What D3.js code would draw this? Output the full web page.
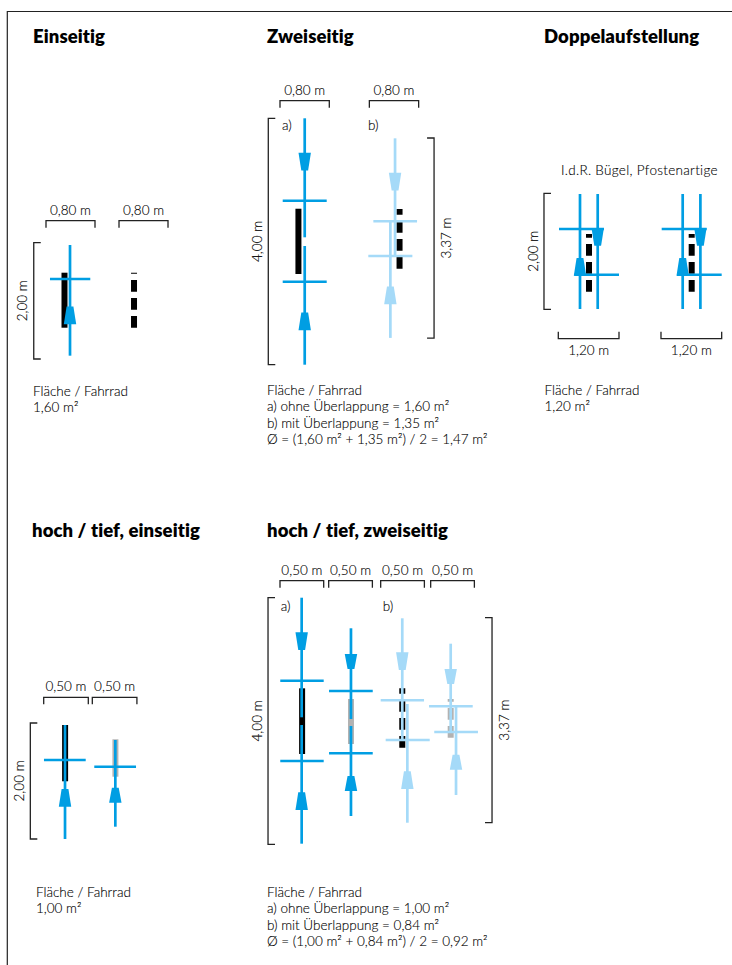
<!DOCTYPE html>
<html lang="de">
<head>
<meta charset="utf-8">
<title>Fahrradparken</title>
<script src="https://cdn.jsdelivr.net/npm/d3@7"></script>
<style>
  html, body { margin: 0; background: #fff; }
  svg { display: block; }
  text { font-family: Lato, "Open Sans", sans-serif; font-weight: 300; font-size: 13.5px; fill: #000; stroke: #000; stroke-width: 0.12px; font-variant-ligatures: none; }
  .title { font-weight: 800; font-size: 18.5px; letter-spacing: 0.1px; fill: #000; stroke: none; }
  .sub { letter-spacing: 0.3px; }
</style>
</head>
<body>
<svg id="sheet" width="732" height="965"></svg>
<script>
/* =====================================================
   Bike parking layouts, all lengths in metres on the plan
   bike: x, top, bottom = shaft, cross = handlebar height,
         left/right = handlebar ends, arrow = wide edge of
         the arrow head, dir -1 up / 1 down
   rack: x, top, bottom, dashed and grey flags
   ===================================================== */

/* --- Einseitig --- */
const einseitigBikes = [
  { x: 0.392, top: 0.040, bottom: 1.943, cross: 0.624, left: 0.065, right: 0.723, arrow: 1.403, dir: -1 }
];
const einseitigRacks = [
  { x: 0.302, top: 0.516, bottom: 1.462 },
  { x: 1.437, top: 0.516, bottom: 1.462, dashed: true }
];
const einseitigWidths = [[0, 0.8, '0,80 m'], [1.192, 1.992, '0,80 m']];
const einseitigText = ['Fläche / Fahrrad', '1,60 m²'];

/* --- Zweiseitig --- */
const zweiseitigBikes = [
  { x: 0.401, top: 0, bottom: 1.932, cross: 1.338, left: 0.044, right: 0.758, arrow: 0.558, dir: 1 },
  { x: 0.401, top: 2.073, bottom: 4, cross: 2.653, left: 0.044, right: 0.758, arrow: 3.442, dir: -1 },
  { x: 1.867, top: 0.325, bottom: 2.235, cross: 1.672, left: 1.515, right: 2.224, arrow: 0.883, dir: 1, light: true },
  { x: 1.791, top: 1.651, bottom: 3.565, cross: 2.235, left: 1.433, right: 2.148, arrow: 3.019, dir: -1, light: true }
];
const zweiseitigRacks = [
  { x: 0.299, top: 1.468, bottom: 2.528 },
  { x: 1.940, top: 1.472, bottom: 2.442, dashed: true }
];
const zweiseitigWidths = [[0, 0.8, '0,80 m'], [1.45, 2.25, '0,80 m']];
const zweiseitigText = [
  'Fläche / Fahrrad',
  'a) ohne Überlappung = 1,60 m²',
  'b) mit Überlappung = 1,35 m²',
  'Ø = (1,60 m² + 1,35 m²) / 2 = 1,47 m²'
];

/* --- Doppelaufstellung --- */
const doppelBikes = [
  { x: 0.779, top: 0.012, bottom: 1.995, cross: 0.616, left: 0.014, right: 0.903, arrow: 0.598, dir: 1 },
  { x: 0.429, top: 0.012, bottom: 1.995, cross: 1.403, left: 0.316, right: 1.2, arrow: 1.421, dir: -1 }
];
const doppelRacks = [{ x: 0.607, top: 0.702, bottom: 1.697, dashed: true }];
const doppelOffsets = [0, 2.03];
const doppelWidths = [[0, 1.2, '1,20 m'], [2.03, 3.23, '1,20 m']];
const doppelText = ['Fläche / Fahrrad', '1,20 m²'];

/* --- hoch / tief, einseitig --- */
const hochEinsBikes = [
  { x: 0.239, top: 0.034, bottom: 2, cross: 0.638, left: 0.003, right: 0.471, arrow: 1.443, dir: -1 },
  { x: 0.803, top: 0.293, bottom: 1.788, cross: 0.753, left: 0.567, right: 1.035, arrow: 1.374, dir: -1, small: true }
];
const hochEinsRacks = [
  { x: 0.240, top: 0.034, bottom: 1.005 },
  { x: 0.804, top: 0.281, bottom: 0.926, grey: true }
];
const hochEinsWidths = [[0, 0.5, '0,50 m'], [0.545, 1.045, '0,50 m']];
const hochEinsText = ['Fläche / Fahrrad', '1,00 m²'];

/* --- hoch / tief, zweiseitig --- */
const hochZweiBikes = [
  { x: 0.248, top: 0, bottom: 1.94, cross: 1.346, left: 0.003, right: 0.5, arrow: 0.561, dir: 1 },
  { x: 0.248, top: 2.065, bottom: 3.99, cross: 2.649, left: 0.003, right: 0.5, arrow: 3.444, dir: -1 },
  { x: 0.812, top: 0.496, bottom: 1.968, cross: 1.513, left: 0.561, right: 1.061, arrow: 0.913, dir: 1, small: true },
  { x: 0.812, top: 2.081, bottom: 3.541, cross: 2.524, left: 0.561, right: 1.061, arrow: 3.135, dir: -1, small: true },
  { x: 1.399, top: 0.334, bottom: 2.308, cross: 1.664, left: 1.152, right: 1.648, arrow: 0.886, dir: 1, light: true },
  { x: 1.457, top: 1.724, bottom: 3.65, cross: 2.308, left: 1.209, right: 1.713, arrow: 3.103, dir: -1, light: true },
  { x: 1.953, top: 0.746, bottom: 2.174, cross: 1.762, left: 1.705, right: 2.205, arrow: 1.157, dir: 1, small: true, light: true },
  { x: 2.014, top: 1.752, bottom: 3.2, cross: 2.178, left: 1.765, right: 2.265, arrow: 2.79, dir: -1, small: true, light: true }
];
const hochZweiRacks = [
  { x: 0.253, top: 1.47, bottom: 2.535 },
  { x: 0.812, top: 1.643, bottom: 2.373, grey: true },
  { x: 1.399, top: 1.47, bottom: 2.433, dashed: true },
  { x: 1.953, top: 1.643, bottom: 2.27, dashed: true, grey: true }
];
const hochZweiWidths = [[0, 0.5, '0,50 m'], [0.557, 1.057, '0,50 m'], [1.152, 1.652, '0,50 m'], [1.724, 2.224, '0,50 m']];
const hochZweiText = [
  'Fläche / Fahrrad',
  'a) ohne Überlappung = 1,00 m²',
  'b) mit Überlappung = 0,84 m²',
  'Ø = (1,00 m² + 0,84 m²) / 2 = 0,92 m²'
];


/* --- Styles --- */
const BLUE = '#009ee3';
const LIGHT = '#a5daf8';
const INK = '#222';
const GREY = '#b2b2b2';
const LINE_H = 16.3;

const svg = d3.select('#sheet');

// page frame: top and left edge only
svg.append('path')
  .attr('d', 'M7.3,965V11.5H732')
  .attr('fill', 'none')
  .attr('stroke', '#222').attr('stroke-width', 1.2);


/* --- Dimension brackets --- */
function widthBracket(g, x, y0, d, label, up) {
  const [a, b] = [x(d[0]), x(d[1])];
  const tick = up ? -7 : 7;
  g.append('path')
    .attr('d', `M${a},${y0 + tick}V${y0}H${b}V${y0 + tick}`)
    .attr('fill', 'none').attr('stroke', INK).attr('stroke-width', 1.3);
  g.append('text')
    .attr('x', (a + b) / 2)
    .attr('y', up ? y0 + 16 : y0 - 6)
    .attr('text-anchor', 'middle')
    .text(label);
}

function heightBracket(g, xPos, y, d, label, side) {
  // side -1: label on the left, ticks to the right
  const [a, b] = [y(d[0]), y(d[1])];
  const tick = -side * 7;
  g.append('path')
    .attr('d', `M${xPos + tick},${a}H${xPos}V${b}H${xPos + tick}`)
    .attr('fill', 'none').attr('stroke', INK).attr('stroke-width', 1.3);
  const lx = xPos + side * (side < 0 ? 11 : 12.5);
  g.append('text')
    .attr('transform', `translate(${lx},${(a + b) / 2}) rotate(-90)`)
    .attr('text-anchor', 'middle')
    .attr('dy', '0.35em')
    .text(label);
}


/* --- Racks + bikes --- */
function drawRacks(g, x, y, racks) {
  g.selectAll('line.rack')
    .data(racks)
    .enter()
    .append('line')
    .attr('class', 'rack')
    .attr('x1', d => x(d.x)).attr('x2', d => x(d.x))
    // drawn from the bottom so the dash pattern is cut off at the top
    .attr('y1', d => y(d.bottom)).attr('y2', d => y(d.top))
    .attr('stroke', d => d.grey ? GREY : '#000')
    .attr('stroke-width', 6)
    .attr('stroke-dasharray', d => d.dashed ? '11.7 6.3' : null);
}

function drawBikes(g, x, y, bikes) {
  const color = d => d.light ? LIGHT : BLUE;
  const items = g.selectAll('g.bike')
    .data(bikes)
    .enter()
    .append('g')
    .attr('class', 'bike');

  items.append('line')
    .attr('x1', d => x(d.x)).attr('x2', d => x(d.x))
    .attr('y1', d => y(d.top)).attr('y2', d => y(d.bottom))
    .attr('stroke', color).attr('stroke-width', 2.7);

  items.append('line')
    .attr('x1', d => x(d.left)).attr('x2', d => x(d.right))
    .attr('y1', d => y(d.cross)).attr('y2', d => y(d.cross))
    .attr('stroke', color).attr('stroke-width', 2.5);

  items.append('path')
    .attr('d', d => {
      const cx = x(d.x);
      const wide = y(d.arrow);
      const h = d.small ? 15 : 17.8;
      const narrow = wide + d.dir * h;
      return `M${cx - 6.2},${wide}H${cx + 6.2}L${cx + 3.4},${narrow}H${cx - 3.4}Z`;
    })
    .attr('fill', color);
}


/* --- Panel --- */
function drawPanel(p) {
  const g = svg.append('g');
  const x = d3.scaleLinear().domain(p.xDomain).range(p.xRange);
  const y = d3.scaleLinear().domain(p.yDomain).range(p.yRange);

  g.append('text')
    .attr('class', 'title')
    .attr('x', p.titleX).attr('y', p.titleY)
    .text(p.title);

  (p.offsets || [0]).forEach(off => {
    const shifted = d3.scaleLinear()
      .domain(p.xDomain)
      .range(p.xRange.map(v => v + x(off) - x(0)));
    drawRacks(g.append('g'), shifted, y, p.racks);
    drawBikes(g.append('g'), shifted, y, p.bikes);
  });

  p.widths.forEach(w => widthBracket(g, x, p.widthY, w, w[2], p.widthUp));
  p.heights.forEach(h => heightBracket(g, x(h.at), y, [h.from, h.to], h.label, h.side));

  (p.marks || []).forEach(m => {
    g.append('text').attr('class', m[2] || null).attr('x', m[1]).attr('y', p.markY).text(m[0]);
  });

  g.selectAll('text.note')
    .data(p.text)
    .enter()
    .append('text')
    .attr('class', 'note')
    .attr('x', p.textX)
    .attr('y', (_, i) => p.textY + i * LINE_H)
    .text(d => d);
}


/* --- Panels on the sheet --- */
drawPanel({
  title: 'Einseitig', titleX: 33, titleY: 43,
  xDomain: [0, 0.8], xRange: [46, 95],
  yDomain: [0, 2], yRange: [242.7, 359],
  bikes: einseitigBikes, racks: einseitigRacks,
  widths: einseitigWidths, widthY: 220.7,
  heights: [{ at: -0.2, from: 0, to: 2, label: '2,00 m', side: -1 }],
  text: einseitigText, textX: 33, textY: 396
});

drawPanel({
  title: 'Zweiseitig', titleX: 267, titleY: 43,
  xDomain: [0, 0.8], xRange: [280, 329.3],
  yDomain: [0, 4], yRange: [118.3, 364.7],
  bikes: zweiseitigBikes, racks: zweiseitigRacks,
  widths: zweiseitigWidths, widthY: 100.7,
  heights: [
    { at: -0.19, from: 0, to: 4, label: '4,00 m', side: -1 },
    { at: 2.5, from: 0.32, to: 3.567, label: '3,37 m', side: 1 }
  ],
  marks: [['a)', 282], ['b)', 368]], markY: 130,
  text: zweiseitigText, textX: 267, textY: 395
});

drawPanel({
  title: 'Doppelaufstellung', titleX: 544, titleY: 43,
  xDomain: [0, 1.2], xRange: [558.3, 619],
  yDomain: [0, 2], yRange: [193.3, 309.3],
  bikes: doppelBikes, racks: doppelRacks, offsets: doppelOffsets,
  widths: doppelWidths, widthY: 338.7, widthUp: true,
  heights: [{ at: -0.283, from: 0, to: 2, label: '2,00 m', side: -1 }],
  marks: [['I.d.R. Bügel, Pfostenartige', 561, 'sub']], markY: 175,
  text: doppelText, textX: 544.5, textY: 394.5
});

drawPanel({
  title: 'hoch / tief, einseitig', titleX: 32, titleY: 537,
  xDomain: [0, 0.5], xRange: [43.7, 88.3],
  yDomain: [0, 2], yRange: [723, 839],
  bikes: hochEinsBikes, racks: hochEinsRacks,
  widths: hochEinsWidths, widthY: 697.3,
  heights: [{ at: -0.15, from: 0, to: 2, label: '2,00 m', side: -1 }],
  text: hochEinsText, textX: 36, textY: 897
});

drawPanel({
  title: 'hoch / tief, zweiseitig', titleX: 267, titleY: 537,
  xDomain: [0, 0.5], xRange: [280, 323.7],
  yDomain: [0, 4], yRange: [597.7, 844.3],
  bikes: hochZweiBikes, racks: hochZweiRacks,
  widths: hochZweiWidths, widthY: 580.7,
  heights: [
    { at: -0.137, from: 0, to: 4, label: '4,00 m', side: -1 },
    { at: 2.426, from: 0.324, to: 3.65, label: '3,37 m', side: 1 }
  ],
  marks: [['a)', 280.7], ['b)', 382.7]], markY: 611,
  text: hochZweiText, textX: 267, textY: 897
});
</script>
</body>
</html>
